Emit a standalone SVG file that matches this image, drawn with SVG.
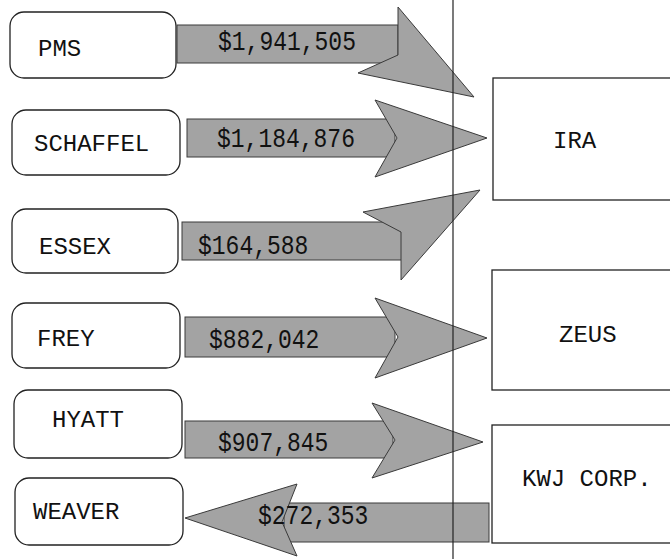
<svg xmlns="http://www.w3.org/2000/svg" width="670" height="559" viewBox="0 0 670 559">
<style>
.box{fill:#fff;stroke:#222;stroke-width:1.3}
.rbox{fill:#fff;stroke:#222;stroke-width:1.3}
.lbl{font-family:"Liberation Mono","Courier New",monospace;font-size:24px;fill:#111}
.amt{font-family:"Liberation Mono","Courier New",monospace;font-size:23px;fill:#111}
.sh{fill:#a3a3a3;stroke:#3a3a3a;stroke-width:1}
.hd{fill:#a3a3a3;stroke:#3a3a3a;stroke-width:1;stroke-linejoin:miter}
.div{stroke:#222;stroke-width:1.2}
</style>
<rect width="670" height="559" fill="#fff"/>
<g id="n-pms"><rect class="box" x="10" y="12" width="166" height="66" rx="14"/><text class="lbl" x="38" y="56">PMS</text></g>
<g id="n-schaffel"><rect class="box" x="12" y="110" width="168" height="65" rx="14"/><text class="lbl" x="34" y="151">SCHAFFEL</text></g>
<g id="n-essex"><rect class="box" x="12" y="209" width="166" height="64" rx="14"/><text class="lbl" x="39" y="254">ESSEX</text></g>
<g id="n-frey"><rect class="box" x="12" y="303" width="168" height="65" rx="14"/><text class="lbl" x="37" y="346">FREY</text></g>
<g id="n-hyatt"><rect class="box" x="14" y="390" width="168" height="68" rx="14"/><text class="lbl" x="52" y="427">HYATT</text></g>
<g id="n-weaver"><rect class="box" x="15" y="478" width="168" height="67" rx="14"/><text class="lbl" x="33" y="519">WEAVER</text></g>
<g id="n-ira"><rect class="rbox" x="493" y="78" width="190" height="122"/><text class="lbl" x="553" y="148">IRA</text></g>
<g id="n-zeus"><rect class="rbox" x="492" y="270" width="190" height="120"/><text class="lbl" x="559" y="342">ZEUS</text></g>
<g id="n-kwj"><rect class="rbox" x="492" y="425" width="190" height="118"/><text class="lbl" x="522" y="486">KWJ CORP.</text></g>
<g id="connectors">
<rect class="sh" x="177" y="25" width="221" height="38"/>
<polygon class="hd" points="398,7 474,97 358,73 398,55"/>
<rect class="sh" x="187" y="119" width="208" height="38"/>
<polygon class="hd" points="375,100 487,138 375,177 397,138"/>
<rect class="sh" x="182" y="222" width="220" height="38"/>
<polygon class="hd" points="363,212 480,190 401,280 401,232"/>
<rect class="sh" x="185" y="317" width="210" height="40"/>
<polygon class="hd" points="375,298 487,338 375,378 398,337"/>
<rect class="sh" x="185" y="421" width="208" height="37"/>
<polygon class="hd" points="372,403 483,442 372,478 395,440"/>
<rect class="sh" x="284" y="503" width="205" height="39"/>
<polygon class="hd" points="185,518 297,484 282,522 297,556"/>
<text class="amt" transform="translate(218,50) scale(1,1.2)">$1,941,505</text>
<text class="amt" transform="translate(217,147) scale(1,1.2)">$1,184,876</text>
<text class="amt" transform="translate(198,254) scale(1,1.2)">$164,588</text>
<text class="amt" transform="translate(209,348) scale(1,1.2)">$882,042</text>
<text class="amt" transform="translate(218,451) scale(1,1.2)">$907,845</text>
<text class="amt" transform="translate(258,524) scale(1,1.2)">$272,353</text>
</g>
<g id="divider"><line class="div" x1="453" y1="0" x2="453" y2="559"/></g>
</svg>
